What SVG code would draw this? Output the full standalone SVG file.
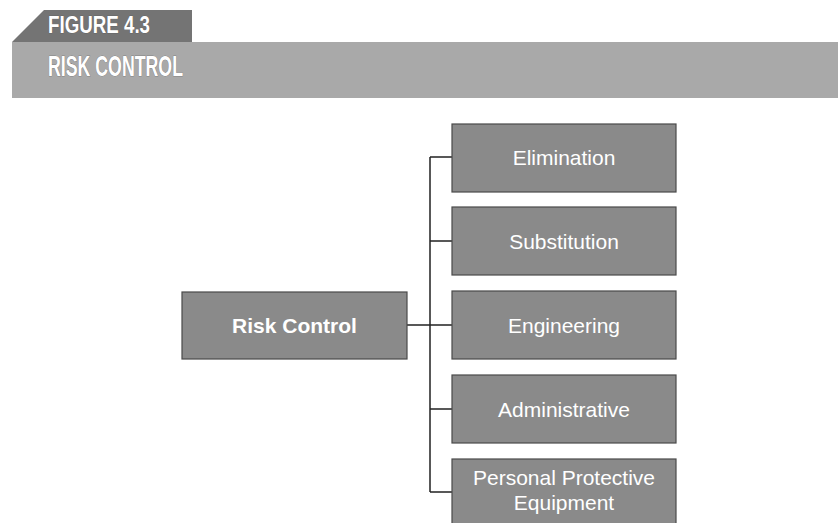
<svg xmlns="http://www.w3.org/2000/svg" width="838" height="523" viewBox="0 0 838 523">
<style>
.box{fill:#8a8a8a;stroke:#4a4a4a;stroke-width:1.2}
.lbl{font-family:"Liberation Sans",Arial,sans-serif;font-size:21px;fill:#ffffff;text-anchor:middle}
.hdr{font-family:"Liberation Sans",Arial,sans-serif;font-weight:bold;fill:#ffffff;stroke:#555;stroke-width:0.6;paint-order:stroke}
.conn{fill:none;stroke:#222;stroke-width:1.5}
</style>
<rect width="838" height="523" fill="#ffffff"/>
<g id="header">
<polygon points="12,42 44,10 192,10 192,42" fill="#747474"/>
<rect x="12" y="42" width="826" height="56" fill="#a9a9a9"/>
<text class="hdr" x="48" y="33" font-size="24" textLength="102" lengthAdjust="spacingAndGlyphs">FIGURE 4.3</text>
<text class="hdr" x="48" y="76" font-size="30" textLength="135" lengthAdjust="spacingAndGlyphs">RISK CONTROL</text>
</g>
<g id="connectors">
<path class="conn" d="M407,325 H430 M430,157 V492 M430,157 H452 M430,241 H452 M430,325 H452 M430,409 H452 M430,492 H452"/>
</g>
<g id="risk-control">
<rect class="box" x="182" y="292" width="225" height="67"/>
<text class="lbl" x="294.5" y="333" font-weight="bold">Risk Control</text>
</g>
<g id="elimination">
<rect class="box" x="452" y="124" width="224" height="68"/>
<text class="lbl" x="564" y="165">Elimination</text>
</g>
<g id="substitution">
<rect class="box" x="452" y="207" width="224" height="68"/>
<text class="lbl" x="564" y="248.5">Substitution</text>
</g>
<g id="engineering">
<rect class="box" x="452" y="291" width="224" height="68"/>
<text class="lbl" x="564" y="332.5">Engineering</text>
</g>
<g id="administrative">
<rect class="box" x="452" y="375" width="224" height="68"/>
<text class="lbl" x="564" y="416.5">Administrative</text>
</g>
<g id="ppe">
<rect class="box" x="452" y="459" width="224" height="68"/>
<text class="lbl" x="564" y="485">Personal Protective</text>
<text class="lbl" x="564" y="510">Equipment</text>
</g>
</svg>
